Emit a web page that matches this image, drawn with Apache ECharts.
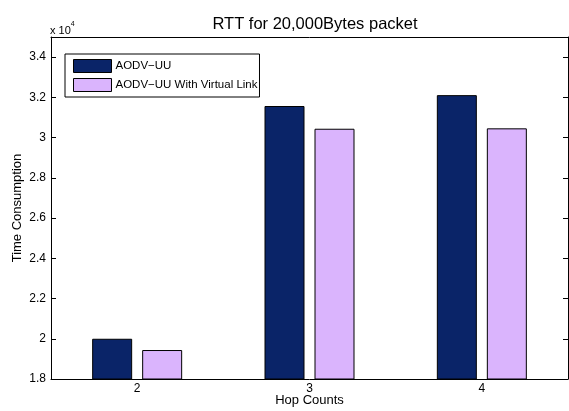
<!DOCTYPE html>
<html>
<head>
<meta charset="utf-8">
<script src="https://cdn.jsdelivr.net/npm/echarts@6/dist/echarts.min.js"></script>
<style>
html,body{margin:0;padding:0;background:#fff;}
#main{width:569px;height:411px;}
</style>
</head>
<body>
<div id="main"></div>
<script>
// hop counts on the x axis
const hops = ['2', '3', '4'];
// round trip time, raw units (axis shows x 10^4)
const aodvUU = [20000, 31570, 32110];
const aodvVirtual = [19440, 30440, 30460];
const seriesNames = ['AODV−UU', 'AODV−UU With Virtual Link'];

let chart = echarts.init(document.getElementById('main'));
const font = 'Liberation Sans, Arial, Helvetica, sans-serif';

let option = {
    backgroundColor: '#fff',
    animation: false,
    title: {
        text: 'RTT for 20,000Bytes packet',
        left: 310,
        textAlign: 'center',
        top: 11,
        textStyle: {fontFamily: font, fontSize: 16.5, fontWeight: 'normal', color: '#000'}
    },
    grid: {left: 51, right: 1, top: 37, bottom: 32, outerBoundsMode: 'none', containLabel: false},
    legend: {
        orient: 'vertical',
        left: 65,
        top: 54,
        icon: 'rect',
        itemWidth: 38,
        itemHeight: 13,
        itemGap: 5,
        padding: [5, 2, 5, 8],
        borderColor: '#000',
        borderWidth: 1,
        backgroundColor: '#fff',
        itemStyle: {borderColor: '#000', borderWidth: 1},
        textStyle: {fontFamily: font, fontSize: 11.5, color: '#000', padding: [0, 0, 0, -1]},
        data: seriesNames
    },
    graphic: [{
        type: 'text',
        left: 50,
        top: 21,
        style: {
            text: '{a|x 10}{b|4}',
            rich: {
                a: {fontFamily: font, fontSize: 11, fill: '#000', padding: [4, 0, 0, 0]},
                b: {fontFamily: font, fontSize: 7, fill: '#000', verticalAlign: 'top'}
            }
        }
    }],
    xAxis: [{
        type: 'category',
        data: hops,
        boundaryGap: true,
        name: 'Hop Counts',
        nameLocation: 'middle',
        nameGap: 15,
        nameMoveOverlap: false,
        nameTextStyle: {fontFamily: font, fontSize: 13, color: '#000'},
        axisLine: {lineStyle: {color: '#000', width: 1}},
        axisTick: {alignWithLabel: true, inside: true, length: 5, lineStyle: {color: '#000'}},
        axisLabel: {fontFamily: font, fontSize: 12, color: '#000', margin: 4}
    }, {
        type: 'category',
        data: hops,
        position: 'top',
        boundaryGap: true,
        axisLine: {lineStyle: {color: '#000', width: 1}},
        axisTick: {alignWithLabel: true, inside: true, length: 5, lineStyle: {color: '#000'}},
        axisLabel: {show: false}
    }],
    yAxis: [{
        type: 'value',
        min: 18000,
        max: 35000,
        interval: 2000,
        name: 'Time Consumption',
        nameLocation: 'middle',
        nameGap: 27,
        nameMoveOverlap: false,
        nameTextStyle: {fontFamily: font, fontSize: 13, color: '#000'},
        axisLine: {show: true, lineStyle: {color: '#000', width: 1}},
        axisTick: {show: true, inside: true, length: 5, lineStyle: {color: '#000'}},
        axisLabel: {
            fontFamily: font, fontSize: 12, color: '#000', margin: 5,
            showMaxLabel: false,
            formatter: function (v) { return v === 35000 ? '' : String(+(v / 10000).toFixed(1)); }
        },
        splitLine: {show: false}
    }, {
        type: 'value',
        position: 'right',
        min: 18000,
        max: 35000,
        interval: 2000,
        axisLine: {show: true, lineStyle: {color: '#000', width: 1}},
        axisTick: {show: true, inside: true, length: 5, lineStyle: {color: '#000'}},
        axisLabel: {show: false},
        splitLine: {show: false}
    }],
    series: [{
        name: seriesNames[0],
        type: 'bar',
        data: aodvUU,
        barWidth: 40,
        barGap: '25%',
        itemStyle: {color: '#0a2468', borderColor: '#000', borderWidth: 1}
    }, {
        name: seriesNames[1],
        type: 'bar',
        data: aodvVirtual,
        barWidth: 40,
        barGap: '25%',
        itemStyle: {color: '#dab4fd', borderColor: '#000', borderWidth: 1}
    }]
};
chart.setOption(option);
</script>
</body>
</html>
